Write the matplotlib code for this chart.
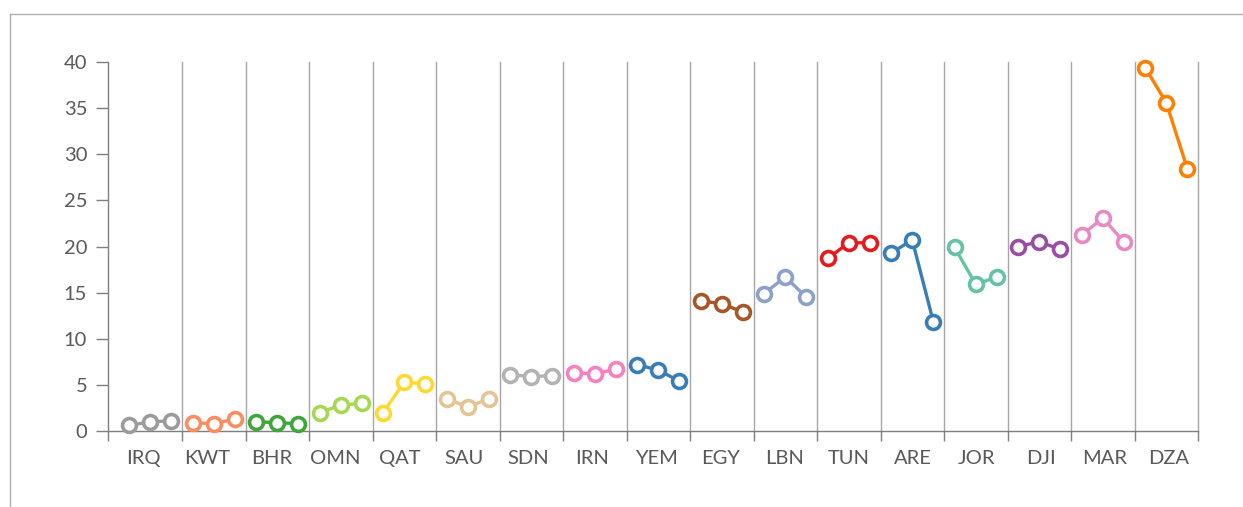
import matplotlib
matplotlib.use("Agg")
import matplotlib.pyplot as plt
from matplotlib.lines import Line2D

# categories and three values per country
countries = ["IRQ", "KWT", "BHR", "OMN", "QAT", "SAU", "SDN", "IRN", "YEM",
             "EGY", "LBN", "TUN", "ARE", "JOR", "DJI", "MAR", "DZA"]
values = [
    [0.6, 1.0, 1.1],
    [0.9, 0.8, 1.3],
    [1.0, 0.9, 0.8],
    [2.0, 2.8, 3.0],
    [2.0, 5.3, 5.1],
    [3.5, 2.6, 3.5],
    [6.1, 5.9, 6.0],
    [6.3, 6.2, 6.7],
    [7.2, 6.6, 5.4],
    [14.1, 13.8, 12.9],
    [14.9, 16.7, 14.5],
    [18.7, 20.4, 20.4],
    [19.3, 20.7, 11.8],
    [19.9, 15.9, 16.7],
    [20.0, 20.5, 19.7],
    [21.2, 23.1, 20.5],
    [39.4, 35.6, 28.4],
]
colors = ["#9b9b9b", "#fc8d62", "#3ea63a", "#a6d854", "#ffd92f", "#e5c494",
          "#b3b3b3", "#f781bf", "#377eb8", "#a65628", "#8da0cb", "#e41a1c",
          "#377eb8", "#66c2a5", "#984ea3", "#e78ac3", "#ff7f00"]
yticks = [0, 5, 10, 15, 20, 25, 30, 35, 40]

plt.rcParams["font.family"] = ["Lato", "DejaVu Sans"]

fig = plt.figure(figsize=(12.43, 5.07), dpi=100)
ax = fig.add_axes([108 / 1243, 76 / 507, 1090 / 1243, 369 / 507])

n = len(countries)
# one line per country, three points each
for i in range(n):
    xs = [3 * i, 3 * i + 1, 3 * i + 2]
    ax.plot(xs, values[i], "-o", color=colors[i], lw=2.4,
            markersize=10, markerfacecolor="white", markeredgewidth=2.6,
            markeredgecolor=colors[i], clip_on=False, zorder=3)

# vertical separators between countries
seps = [3 * i + 2.5 for i in range(n)]
for s in seps:
    ax.axvline(s, color="#a6a6a6", lw=1, zorder=1, clip_on=False)

ax.set_xlim(-1, 3 * n - 0.5)
ax.set_ylim(0, 40)
ax.set_yticks(yticks)

# labels spread evenly over the axis, separators as minor ticks
span = (3 * n - 0.5) - (-1)
label_pos = [-1 + span / n * (i + 0.5) + 0.15 for i in range(n)]
ax.set_xticks(label_pos)
ax.set_xticklabels(countries)
ax.set_xticks([-1] + seps, minor=True)
ax.tick_params(axis="x", which="major", length=0, pad=14,
               labelsize=14.5, labelcolor="#595959")
ax.tick_params(axis="x", which="minor", length=7, width=1, color="#7f7f7f")
ax.tick_params(axis="y", length=9, width=1, color="#7f7f7f", pad=6,
               labelsize=14.5, labelcolor="#595959")

for side in ["top", "right"]:
    ax.spines[side].set_visible(False)
for side in ["left", "bottom"]:
    ax.spines[side].set_color("#7f7f7f")
    ax.spines[side].set_linewidth(1)

# outer light frame (top and left only)
fig.add_artist(Line2D([10 / 1243, 1], [1 - 14 / 507, 1 - 14 / 507],
                      color="#b0b0b0", lw=1, transform=fig.transFigure))
fig.add_artist(Line2D([10 / 1243, 10 / 1243], [0, 1 - 14 / 507],
                      color="#b0b0b0", lw=1, transform=fig.transFigure))

fig.savefig("out.png", dpi=100)
